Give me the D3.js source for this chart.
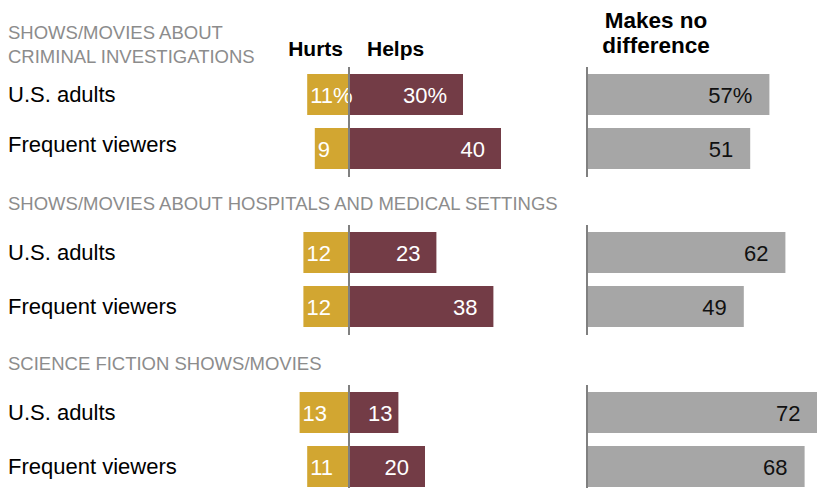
<!DOCTYPE html>
<html>
<head>
<meta charset="utf-8">
<script src="https://cdn.jsdelivr.net/npm/d3@7"></script>
<style>
  html, body { margin: 0; padding: 0; background: #fff; }
  svg { display: block; }
</style>
</head>
<body>
<svg id="chart" width="817" height="488"></svg>
<script>
// Section titles (each may wrap onto several lines)
const sectionTitles = [
  ["SHOWS/MOVIES ABOUT", "CRIMINAL INVESTIGATIONS"],
  ["SHOWS/MOVIES ABOUT HOSPITALS AND MEDICAL SETTINGS"],
  ["SCIENCE FICTION SHOWS/MOVIES"]
];
const groups = ["U.S. adults", "Frequent viewers"];

// Percent saying each kind of show hurts / helps / makes no difference
const hurts  = [[11, 9], [12, 12], [13, 11]];
const helps  = [[30, 40], [23, 38], [13, 20]];
const noDiff = [[57, 51], [62, 49], [72, 68]];

const headers = { hurts: "Hurts", helps: "Helps", noDiff: ["Makes no", "difference"] };

const svg = d3.select("#chart");
const W = 817, H = 488;

const colors = { hurts: "#D2A631", helps: "#733C46", noDiff: "#A6A6A6", axis: "#808080" };
const labelFont = "'Liberation Sans', Arial, sans-serif";

// Diverging scale for hurts (left of zero) and helps (right of zero)
const xDiv = d3.scaleLinear().domain([0, 40]).range([349, 501]);
// Separate scale for "makes no difference"
const xNo = d3.scaleLinear().domain([0, 72]).range([587, 817.4]);

const sectionTop = [74, 232, 392];
const rowStep = 54, barH = 41;

// Column headers
svg.append("text").attr("x", 343).attr("y", 56).attr("text-anchor", "end")
  .attr("font-family", labelFont).attr("font-weight", "bold").attr("font-size", 21)
  .attr("fill", "#000").text(headers.hurts);
svg.append("text").attr("x", 367).attr("y", 56).attr("text-anchor", "start")
  .attr("font-family", labelFont).attr("font-weight", "bold").attr("font-size", 21)
  .attr("fill", "#000").text(headers.helps);
headers.noDiff.forEach((t, i) => {
  svg.append("text").attr("x", 656).attr("y", 28 + i * 25).attr("text-anchor", "middle")
    .attr("font-family", labelFont).attr("font-weight", "bold").attr("font-size", 22.5)
    .attr("fill", "#000").text(t);
});

sectionTitles.forEach((lines, s) => {
  const top = sectionTop[s];
  const g = svg.append("g");

  // section title, lines stacked upward from just above the bars
  const lastBase = s === 0 ? top - 11 : top - 22;
  lines.forEach((t, i) => {
    g.append("text")
      .attr("x", 8)
      .attr("y", lastBase - (lines.length - 1 - i) * 24)
      .attr("font-family", labelFont).attr("font-size", 18.5)
      .attr("fill", "#8C8C8C")
      .text(t);
  });

  groups.forEach((name, r) => {
    const y0 = top + r * rowStep;
    const yc = y0 + barH / 2;
    const pct = (s === 0 && r === 0) ? "%" : "";

    // the first section sits tighter under its two-line title
    const labelShift = (s === 0 && r === 1) ? -4 : 0;
    g.append("text").attr("x", 8).attr("y", yc + 7 + labelShift)
      .attr("font-family", labelFont).attr("font-size", 22)
      .attr("fill", "#000").text(name);

    const hv = hurts[s][r], pv = helps[s][r], nv = noDiff[s][r];

    // hurts bar, extending left from zero
    g.append("rect").attr("x", xDiv(-hv)).attr("y", y0)
      .attr("width", xDiv(0) - xDiv(-hv)).attr("height", barH)
      .attr("fill", colors.hurts);
    // helps bar
    g.append("rect").attr("x", xDiv(0)).attr("y", y0)
      .attr("width", xDiv(pv) - xDiv(0)).attr("height", barH)
      .attr("fill", colors.helps);
    // makes no difference bar
    g.append("rect").attr("x", xNo(0)).attr("y", y0)
      .attr("width", xNo(nv) - xNo(0)).attr("height", barH)
      .attr("fill", colors.noDiff);

    // value labels
    g.append("text").attr("x", xDiv(-hv) + 3).attr("y", yc + 8)
      .attr("font-family", labelFont).attr("font-size", 22)
      .attr("fill", "#fff").text(hv + pct);
    g.append("text").attr("x", xDiv(pv) - (pv < 15 ? 6 : 16)).attr("y", yc + 8)
      .attr("text-anchor", "end")
      .attr("font-family", labelFont).attr("font-size", 22)
      .attr("fill", "#fff").text(pv + pct);
    g.append("text").attr("x", xNo(nv) - 17).attr("y", yc + 8)
      .attr("text-anchor", "end")
      .attr("font-family", labelFont).attr("font-size", 22)
      .attr("fill", "#111").text(nv + pct);
  });

  // zero lines
  const yTop = top - 7, yBot = Math.min(top + rowStep + barH + 8, H);
  [xDiv(0), xNo(0)].forEach(x => {
    g.append("line").attr("x1", x).attr("x2", x).attr("y1", yTop).attr("y2", yBot)
      .attr("stroke", colors.axis).attr("stroke-width", 2);
  });
});
</script>
</body>
</html>
